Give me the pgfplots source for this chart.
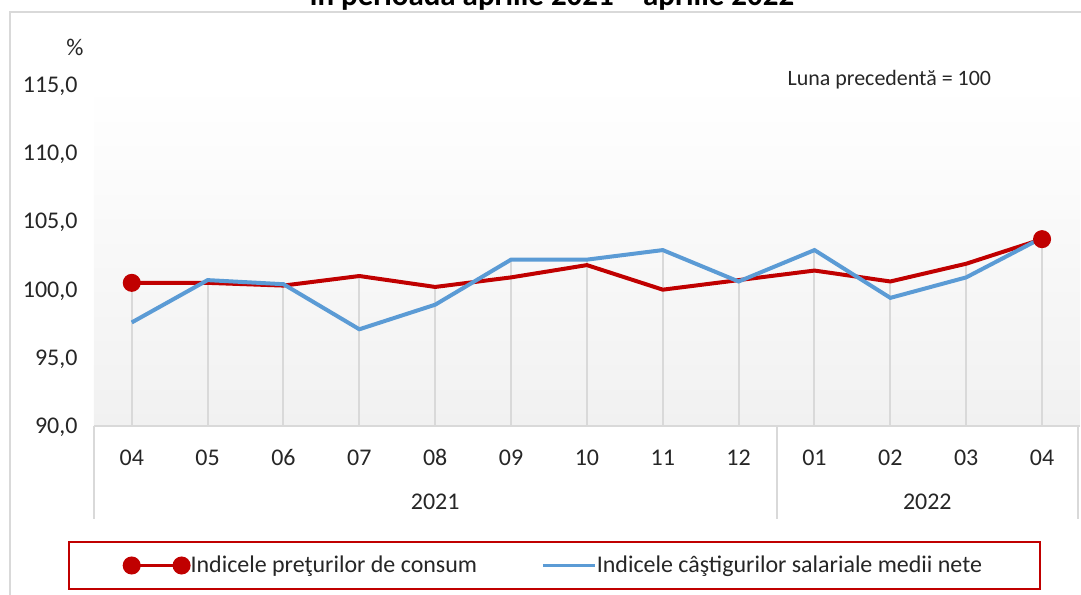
\documentclass[border=0pt]{standalone}
\usepackage{pgfplots}
\pgfplotsset{compat=1.18}
\usepackage{fontspec}
\setmainfont{Carlito}
\definecolor{cpi}{HTML}{C00000}
\definecolor{wage}{HTML}{5B9BD5}
\definecolor{gridg}{HTML}{D9D9D9}
\definecolor{txt}{HTML}{262626}

\begin{document}
\begin{tikzpicture}
\begin{scope}[x=0.5pt,y=-0.5pt]
\useasboundingbox (0,0) rectangle (1081,596);
\draw[gridg, line width=1pt] (10,12) rectangle (1100,620);
\node[font=\bfseries\fontsize{15.5}{18}\selectfont, anchor=base] at (553,6) {în perioada aprilie 2021 – aprilie 2022};
\node[font=\fontsize{12}{14}\selectfont, text=txt] at (75,48) {\%};
\end{scope}
\begin{axis}[
  name=ax,
  at={(47pt,-213.5pt)}, anchor=south west,
  width=494pt, height=171pt, scale only axis,
  xmin=-0.5, xmax=12.5, ymin=90, ymax=115,
  ytick={90,95,...,115}, xtick={0,...,12},
  xticklabels={04,05,06,07,08,09,10,11,12,01,02,03,04},
  yticklabel={\pgfmathprintnumber[fixed,fixed zerofill,precision=1,use comma,assume math mode=true]{\tick}},
  axis line style={draw=none},
  tick style={draw=none},
  major tick length=0pt,
  ticklabel style={font=\fontsize{12}{14}\selectfont, text=txt},
  yticklabel style={anchor=base east, inner sep=0pt, xshift=-8pt, yshift=-3.8pt},
  xticklabel style={anchor=base, inner sep=0pt, yshift=-19.8pt},
  axis background/.style={shade, top color=white, bottom color=black!5.5},
  legend style={at={(0.467,-0.408)}, anchor=center, draw=cpi, line width=1pt,
    font=\fontsize{12}{14}\selectfont, text=txt, inner xsep=27pt, inner ysep=5pt,
    /tikz/every even column/.append style={column sep=30pt},
    /tikz/every odd column/.append style={column sep=-2pt}},
  legend columns=2,
  legend cell align=left,
]
\addplot[ycomb, gridg, line width=1pt, forget plot] coordinates {
(0,100.5) (1,100.5) (2,100.3) (3,101.0) (4,100.2) (5,100.9) (6,101.8) (7,100.0) (8,100.7) (9,101.4) (10,100.6) (11,101.9) (12,103.7)};
\addplot[ycomb, gridg, line width=1pt, forget plot] coordinates {
(0,97.6) (1,100.7) (2,100.4) (3,97.1) (4,98.9) (5,102.2) (6,102.2) (7,102.9) (8,100.6) (9,102.9) (10,99.4) (11,100.9) (12,103.8)};
\addplot[cpi, line width=2pt, mark=*, mark size=3.5pt, mark indices={1,13},
  legend image code/.code={\draw[cpi, line width=2pt] (0pt,0pt) -- (25pt,0pt);
    \fill[cpi] (0pt,0pt) circle (3.5pt); \fill[cpi] (25pt,0pt) circle (3.5pt);}] coordinates {
(0,100.5) (1,100.5) (2,100.3) (3,101.0) (4,100.2) (5,100.9) (6,101.8) (7,100.0) (8,100.7) (9,101.4) (10,100.6) (11,101.9) (12,103.7)};
\addlegendentry{Indicele preţurilor de consum}
\addplot[wage, line width=2pt, mark=none,
  legend image code/.code={\draw[wage, line width=2pt] (0pt,0pt) -- (26pt,0pt);}] coordinates {
(0,97.6) (1,100.7) (2,100.4) (3,97.1) (4,98.9) (5,102.2) (6,102.2) (7,102.9) (8,100.6) (9,102.9) (10,99.4) (11,100.9) (12,103.8)};
\addlegendentry{Indicele câştigurilor salariale medii nete}
\end{axis}
\begin{scope}[x=0.5pt,y=-0.5pt]
\node[font=\fontsize{11}{13}\selectfont, text=txt] at (891,80) {Luna precedentă = 100};
\draw[gridg, line width=1pt] (94,427) -- (1082,427);
\draw[gridg, line width=1pt] (94,427) -- (94,520);
\draw[gridg, line width=1pt] (778,427) -- (778,520);
\draw[gridg, line width=1pt] (1080,427) -- (1080,520);
\node[font=\fontsize{12}{14}\selectfont, text=txt] at (436,503) {2021};
\node[font=\fontsize{12}{14}\selectfont, text=txt] at (929,503) {2022};
\end{scope}
\end{tikzpicture}
\end{document}
